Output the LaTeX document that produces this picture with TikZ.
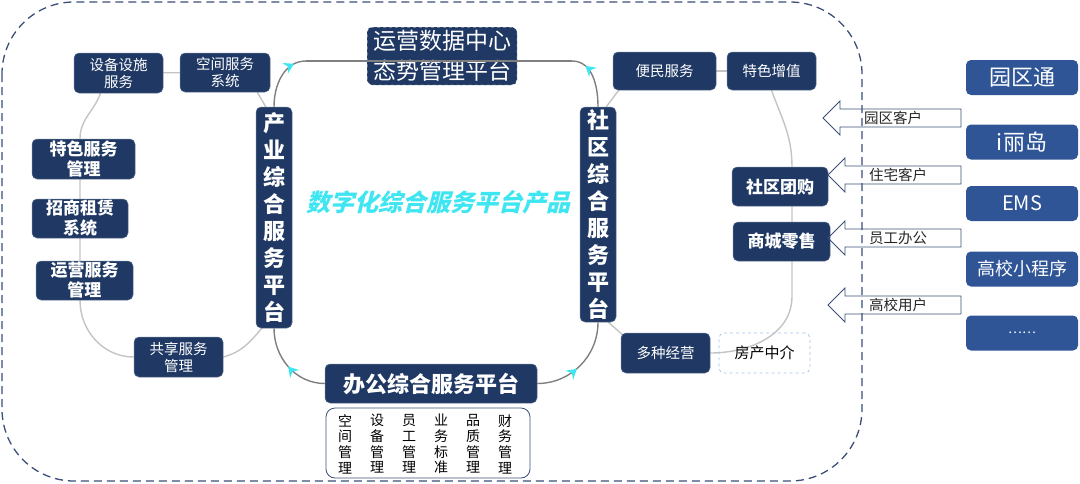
\documentclass[tikz,border=0pt]{standalone}
\usepackage{fontspec}
\setmainfont{Noto Sans CJK SC}
\newfontfamily\slantfont[FakeSlant=0.25]{Noto Sans CJK SC}
\usetikzlibrary{arrows.meta, positioning, calc, backgrounds, decorations.markings}

\definecolor{navybox}{HTML}{1F3864}
\definecolor{appblue}{HTML}{2F5597}
\definecolor{loopgray}{HTML}{7F7F7F}
\definecolor{branchgray}{HTML}{C4C4C4}
\definecolor{frameblue}{HTML}{3B4E78}
\definecolor{titlecyan}{HTML}{3FE6F2}
\definecolor{dashblue}{HTML}{A8C2EA}

\begin{document}
\begin{tikzpicture}[
    x=1pt, y=1pt,
    box/.style={fill=navybox, draw=navybox!70!white, line width=0.5pt,
                rounded corners=5pt, text=white, align=center, inner sep=0pt},
    minor/.style={box, font=\fontsize{14.5}{17}\selectfont},
    major/.style={box, font=\fontsize{17}{20}\selectfont\bfseries},
    platform/.style={box, font=\fontsize{22}{27}\selectfont\bfseries},
    app/.style={fill=appblue, rounded corners=5pt, text=white, minimum width=112,
                minimum height=35, inner sep=0pt},
    loopline/.style={draw=loopgray, line width=1.4pt},
    branch/.style={draw=branchgray, line width=1.4pt},
    flowmark/.style={postaction={decorate}, decoration={markings,
                mark=at position #1 with {\arrow{Stealth[color=titlecyan, length=10pt, width=12pt, inset=3.5pt]}}}},
    userarrow/.style={draw=frameblue, line width=0.8pt},
    usertext/.style={font=\fontsize{14.5}{16}\selectfont, text=black!85, inner sep=0pt},
    frame/.style={draw=frameblue, line width=1.3pt, dash pattern=on 8pt off 5pt, rounded corners=72pt},
    >=Stealth
  ]
  \useasboundingbox (0,0) rectangle (1080,-483);
  % Outer frame
  \draw[frame] (2,-2) rectangle (862,-481);

  % Centre platforms
  \node[box, minimum width=150, minimum height=58, draw=white, dashed,
        font=\fontsize{23}{30}\selectfont] (ops) at (442,-56) {运营数据中心\\态势管理平台};
  \node[platform, minimum width=36, minimum height=221] (ind) at (274,-217.5) {产\\业\\综\\合\\服\\务\\平\\台};
  \node[platform, minimum width=36, minimum height=215] (soc) at (598,-214.5) {社\\区\\综\\合\\服\\务\\平\\台};
  \node[platform, minimum width=212, minimum height=39] (off) at (431,-383.5) {办公综合服务平台};
  \node[draw=frameblue, rounded corners=9pt, line width=0.8pt, minimum width=204,
        minimum height=70] (tasks) at (428,-443) {};
  \foreach \i/\a/\b/\c/\d in {0/空/间/管/理, 1/设/备/管/理, 2/员/工/管/理, 3/业/务/标/准, 4/品/质/管/理, 5/财/务/管/理} {
    \node[font=\fontsize{14}{15.7}\selectfont, align=center, inner sep=0pt] (task\i) at (345+\i*32,-444) {\a\\\b\\\c\\\d};
  }
  \node[font=\fontsize{24}{24}\selectfont\slantfont\bfseries, text=titlecyan] (title) at (438,-202) {数字化综合服务平台产品};

  % Industry side
  \node[minor, minimum width=89, minimum height=40] (dev) at (118.5,-73) {设备设施\\服务};
  \node[minor, minimum width=90, minimum height=39] (spc) at (225,-72.5) {空间服务\\系统};
  \node[major, minimum width=103, minimum height=40] (spec) at (83.5,-159) {特色服务\\管理};
  \node[major, minimum width=96, minimum height=39] (rent) at (80,-218.5) {招商租赁\\系统};
  \node[major, minimum width=97, minimum height=39] (opm) at (84.5,-280.5) {运营服务\\管理};
  \node[minor, minimum width=89, minimum height=40] (shr) at (178.5,-357) {共享服务\\管理};

  % Community side
  \node[minor, minimum width=103, minimum height=38] (cmv) at (664.5,-71) {便民服务};
  \node[minor, minimum width=89, minimum height=38] (feat) at (771.5,-71) {特色增值};
  \node[major, minimum width=96, minimum height=39] (grp) at (780,-186.5) {社区团购};
  \node[major, minimum width=97, minimum height=39] (mall) at (781.5,-241.5) {商城零售};
  \node[minor, minimum width=89, minimum height=40] (mult) at (665.5,-353) {多种经营};
  \node[draw=dashblue, dashed, line width=0.8pt, rounded corners=5pt, minimum width=91, minimum height=40,
        font=\fontsize{15}{17}\selectfont, inner sep=0pt] (agent) at (764.5,-353) {房产中介};

  % Branches
  \begin{scope}[on background layer]
    \draw[branch] (dev) -- (spc);
    \draw[branch] ($(spc.south east)+(-13,0)$) -- ($(ind.north west)+(10,0)$);
    \draw[branch] ($(dev.south)+(-18,0)$) to[out=-110,in=90] (spec.north -| rent.center)
      -- (opm.south -| rent.center) to[out=-90,in=180] (shr.west);
    \draw[branch] (shr.east) to[out=15,in=-130] ($(ind.south west)+(6,0)$);
    \draw[branch] ($(soc.north east)+(-10,0)$) -- ($(cmv.south west)+(6,0)$);
    \draw[branch] (cmv) -- (feat);
    \draw[branch] (feat.south) to[out=-70,in=90] ($(grp.north)+(12,0)$)
      -- ($(mall.south)+(10.5,0)$) -- ++(0,-35) to[out=-90,in=0] (mult.east);
    \draw[branch] ($(soc.south east)+(-8,0)$) -- ($(mult.north west)+(3,-3)$);
  \end{scope}

  % Main loop
  \coordinate (tl) at (306,-61);
  \coordinate (tr) at (572,-61);
  \draw[loopline, flowmark=0.8] (ind.north) to[out=90,in=180] (tl);
  \draw[loopline] (tl) -- (tr);
  \draw[loopline, flowmark=0.75] (soc.north) to[out=90,in=0] (tr);
  \draw[loopline, flowmark=0.5] (off.west) to[out=180,in=-90] (ind.south);
  \draw[loopline, flowmark=0.45] (off.east) to[out=0,in=-90] (soc.south);

  % User groups
  \foreach \n/\tx/\y/\t in {pcust/823/118/园区客户, hcust/828/175/住宅客户, ecust/828/238/员工办公, ucust/828/305/高校用户} {
    \draw[userarrow] (\tx,-\y) -- ++(17,17) -- ++(0,-8) -- (961,-\y+9) -- (961,-\y-9)
      -- (\tx+17,-\y-9) -- ++(0,-8) -- cycle;
    \node[usertext, anchor=west] (\n) at (\tx+41,-\y) {\t};
  }

  % Apps
  \foreach \n/\y/\t/\s in {park/77.5/园区通/22, ili/142/i丽岛/22, ems/203.5/EMS/20, campus/269/高校小程序/18, more/333/……/13} {
    \node[app, font=\fontsize{\s}{\s}\selectfont] (\n) at (1022,-\y) {\t};
  }
\end{tikzpicture}
\end{document}
